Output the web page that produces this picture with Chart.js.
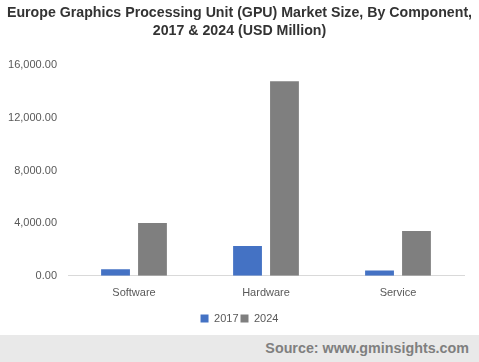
<!DOCTYPE html>
<html>
<head>
    <title>Europe GPU Market Size</title>
    <script src="https://cdn.jsdelivr.net/npm/chart.js"></script>
    <style>
        body { margin: 0; width: 479px; height: 362px; background: #fff; overflow: hidden; font-family: "Liberation Sans", Arial, sans-serif; }
        #wrap { position: relative; width: 479px; height: 335px; }
        #footer { height: 27px; background: #e9e9e9; color: #7f7f7f; font-weight: bold; font-size: 14.3px; text-align: right; padding-right: 10px; line-height: 27px; }
    </style>
</head>
<body>
    <div id="wrap"><canvas id="chart"></canvas></div>
    <div id="footer">Source: www.gminsights.com</div>
    <script>
        const categories = ['Software', 'Hardware', 'Service'];
        const values2017 = [500, 2270, 400];
        const values2024 = [4020, 14800, 3410];
        const yTicks = [0, 4000, 8000, 12000, 16000];

        const ctx = document.getElementById('chart');
        new Chart(ctx, {
            type: 'bar',
            data: {
                labels: categories,
                datasets: [{
                    label: '2017',
                    data: values2017,
                    backgroundColor: '#4472c4',
                    categoryPercentage: 0.56,
                    barPercentage: 0.78
                }, {
                    label: '2024',
                    data: values2024,
                    backgroundColor: '#7f7f7f',
                    categoryPercentage: 0.56,
                    barPercentage: 0.78
                }]
            },
            options: {
                responsive: true,
                maintainAspectRatio: false,
                animation: false,
                layout: { padding: { left: 0, right: 0, top: 0, bottom: 1 } },
                plugins: {
                    title: {
                        display: true,
                        text: ['Europe Graphics Processing Unit (GPU) Market Size, By Component,', '2017 & 2024 (USD Million)'],
                        color: '#333333',
                        font: { family: '"Liberation Sans", Arial, sans-serif', size: 14.2, weight: 'bold', lineHeight: 1.28 },
                        padding: { top: 4, bottom: 25 }
                    },
                    legend: {
                        position: 'bottom',
                        labels: {
                            boxWidth: 8,
                            boxHeight: 8,
                            padding: 2,
                            color: '#595959',
                            font: { family: '"Liberation Sans", Arial, sans-serif', size: 11 }
                        }
                    },
                    tooltip: { enabled: false }
                },
                scales: {
                    x: {
                        grid: { display: false, drawTicks: false },
                        border: { color: '#d9d9d9' },
                        ticks: { color: '#595959', font: { family: '"Liberation Sans", Arial, sans-serif', size: 11 }, padding: 11 }
                    },
                    y: {
                        min: 0,
                        max: 16000,
                        grid: { display: false, drawTicks: false },
                        border: { display: false },
                        afterBuildTicks: axis => { axis.ticks = yTicks.map(v => ({ value: v })); },
                        afterFit: axis => { axis.width = 68; },
                        ticks: {
                            color: '#595959',
                            padding: 11,
                            font: { family: '"Liberation Sans", Arial, sans-serif', size: 11 },
                            callback: v => v.toLocaleString('en-US', { minimumFractionDigits: 2, maximumFractionDigits: 2 })
                        }
                    },
                    // empty spacer on the right so the plot ends at 464px
                    yRight: {
                        position: 'right',
                        display: true,
                        grid: { display: false, drawTicks: false },
                        border: { display: false },
                        ticks: { display: false },
                        afterFit: axis => { axis.width = 15; }
                    }
                }
            }
        });
    </script>
</body>
</html>
